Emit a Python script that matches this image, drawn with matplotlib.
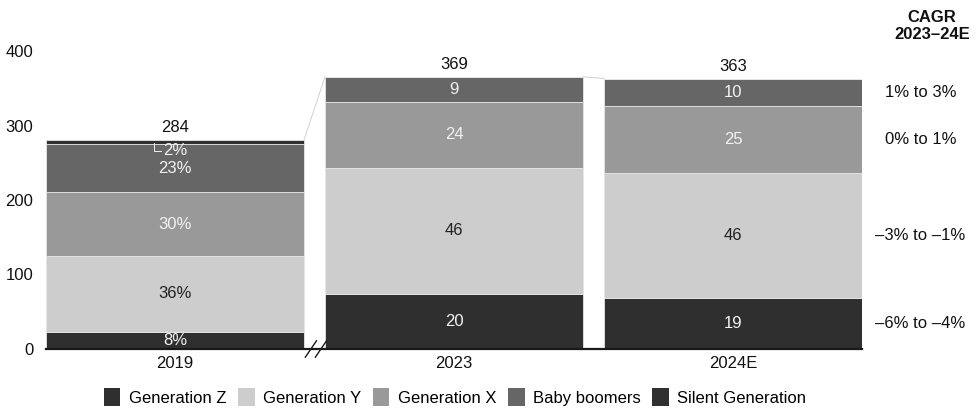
import matplotlib
matplotlib.use("Agg")
import matplotlib.pyplot as plt
from matplotlib.patches import Patch
import numpy as np

plt.rcParams['font.family'] = ['Liberation Sans', 'DejaVu Sans']

years = ["2019", "2023", "2024E"]
totals = [284, 369, 363]
series = ["Generation Z", "Generation Y", "Generation X", "Baby boomers", "Silent Generation"]
# share of each generation in the yearly total, %
gen_z = [8, 20, 19]
gen_y = [36, 46, 46]
gen_x = [30, 24, 25]
boomers = [23, 9, 10]
silent = [2, 0, 0]
share_labels = [
    ["8%", "36%", "30%", "23%", "2%"],
    ["20", "46", "24", "9", ""],
    ["19", "46", "25", "10", ""],
]
cagr_labels = ["\u20136% to \u20134%", "\u20133% to \u20131%", "0% to 1%", "1% to 3%"]

colors = ["#2f2f2f", "#cdcdcd", "#999999", "#666666", "#303030"]
text_colors = ["#f2f2f2", "#222222", "#f2f2f2", "#f2f2f2", "#f2f2f2"]
FS = 12

fig = plt.figure(figsize=(9.77, 4.12), dpi=100)
ax = fig.add_axes([46 / 977, 1 - 349 / 412, (862 - 46) / 977, 298 / 412])

x = np.arange(len(years))
width = 0.925
shares = np.array([gen_z, gen_y, gen_x, boomers, silent], dtype=float)
values = shares / 100.0 * np.array(totals)

bottom = np.zeros(len(years))
for i, name in enumerate(series):
    ax.bar(x, values[i], width, bottom=bottom, color=colors[i],
           edgecolor="#e6e6e6", linewidth=0.6, label=name, zorder=2)
    for j in range(len(years)):
        lab = share_labels[j][i]
        if lab and i < 4:
            ax.text(x[j], bottom[j] + values[i][j] / 2, lab, ha="center", va="center",
                    fontsize=FS, color=text_colors[i], zorder=3)
    bottom += values[i]

# small share of the silent generation in 2019, with a leader mark
top19 = bottom[0]
ax.text(x[0], top19 - 15, share_labels[0][4], ha="center", va="center",
        fontsize=FS, color=text_colors[4], zorder=3)
ax.plot([x[0] - 0.075, x[0] - 0.075, x[0] - 0.05],
        [top19 - 5, top19 - 16, top19 - 16], color="#eeeeee", lw=0.7, zorder=3)

# totals above bars
for j in range(len(years)):
    ax.text(x[j], bottom[j] + 6, str(totals[j]), ha="center", va="bottom",
            fontsize=FS, color="#111111")

# faint connectors between bar tops
for j in range(len(years) - 1):
    ax.plot([x[j] + width / 2, x[j + 1] - width / 2], [bottom[j], bottom[j + 1]],
            color="#d0d0d0", lw=0.7, zorder=1)

# baseline with axis break marks
ax.axhline(0, color="#1a1a1a", lw=1.6, zorder=4, clip_on=False)
bx = (x[0] + x[1]) / 2 + 0.005
for dx in (-0.018, 0.018):
    ax.plot([bx + dx - 0.02, bx + dx + 0.02], [-11, 11], color="#1a1a1a", lw=1.0,
            clip_on=False, zorder=5)

ax.set_xlim(x[0] - width / 2, x[-1] + width / 2)
ax.set_ylim(0, 400)
ax.set_yticks([0, 100, 200, 300, 400])
ax.set_xticks(x)
ax.set_xticklabels(years)
ax.tick_params(axis="both", length=0, labelsize=FS, colors="#111111")
ax.tick_params(axis="y", pad=9)
ax.tick_params(axis="x", pad=5)
for s in ax.spines.values():
    s.set_visible(False)

# CAGR column to the right of the last bar
cum = np.cumsum(values[:, 2]) - values[:, 2] / 2
for k, lab in enumerate(cagr_labels):
    ax.text(x[-1] + width / 2 + 0.21, cum[k], lab, ha="center", va="center",
            fontsize=FS, color="#111111", clip_on=False)
fig.text(932 / 977, 1 - 26 / 412, "CAGR\n2023\u201324E", ha="center", va="center",
         fontsize=FS, fontweight="bold", color="#111111", linespacing=1.1)

handles = [Patch(facecolor=c, edgecolor="none") for c in colors]
fig.legend(handles, series, loc="center", bbox_to_anchor=(455 / 977, 1 - 397 / 412),
           ncol=5, frameon=False, fontsize=FS, handlelength=1.0, handleheight=1.2,
           handletextpad=0.5, columnspacing=0.7)

fig.savefig("out.png", dpi=100)
